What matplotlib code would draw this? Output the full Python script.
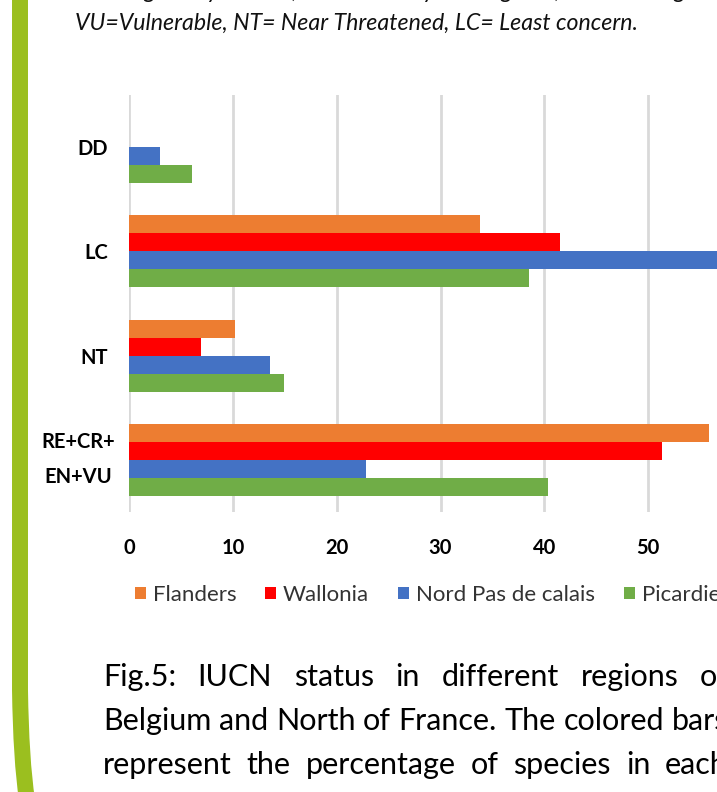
import numpy as np
import matplotlib
matplotlib.use("Agg")
import matplotlib.pyplot as plt
import matplotlib.transforms as mtransforms
from matplotlib.patches import Patch, PathPatch
from matplotlib.path import Path

plt.rcParams['font.family'] = ['Lato', 'DejaVu Sans']

# data (percentage of species)
categories = ["DD", "LC", "NT", "RE+CR+\nEN+VU"]
regions = ["Flanders", "Wallonia", "Nord Pas de calais", "Picardie"]
flanders = [0, 33.8, 10.2, 55.9]
wallonia = [0, 41.5, 6.9, 51.3]
nord_pdc = [3.0, 62.0, 13.6, 22.8]
picardie = [6.1, 38.5, 14.9, 40.4]
colors = ["#ed7d31", "#ff0000", "#4472c4", "#70ad47"]
xticks = [0, 10, 20, 30, 40, 50, 60]

W, H = 717, 792
fig = plt.figure(figsize=(W / 100, H / 100), dpi=100)

def fx(px):
    return px / W

def fy(py):
    return 1 - py / H

# green frame line on the left, bending at the bottom
verts = [(20, -5), (20, 690), (21, 760), (27, 800)]
codes = [Path.MOVETO, Path.LINETO, Path.CURVE3, Path.CURVE3]
frame = PathPatch(Path([(fx(x), fy(y)) for x, y in verts], codes),
                  transform=fig.transFigure, fill=False,
                  edgecolor="#9bbf1f", lw=11.5, capstyle="butt")
fig.add_artist(frame)

# header text (first line is cut by the screenshot)
fig.text(fx(75), fy(-2), "RE= Regionally Extinct, CR= Critically Endangered, EN= Endangered,",
         fontsize=16.7, style="italic", va="baseline", ha="left", color="#111111")
fig.text(fx(75), fy(30), "VU=Vulnerable, NT= Near Threatened, LC= Least concern.",
         fontsize=16.7, style="italic", va="baseline", ha="left", color="#111111")

# chart
ax = fig.add_axes([fx(129), fy(512), fx(752) - fx(129), fy(95) - fy(512)])
y = np.arange(len(categories))
h = 0.173
series = [flanders, wallonia, nord_pdc, picardie]
for i, vals in enumerate(series):
    ax.barh(y + (i - 1.5) * h, vals, height=h, color=colors[i],
            label=regions[i], zorder=3)

ax.set_xlim(0, 60)
ax.set_ylim(3.5, -0.5)
ax.set_xticks(xticks)
ax.set_yticks(y)
ax.set_yticklabels(categories, fontsize=14.5, fontweight="bold",
                   multialignment="center", linespacing=1.95)
ax.tick_params(axis="x", labelsize=14.5, length=0, pad=19)
ax.tick_params(axis="y", length=0, pad=15)
for lab in ax.get_xticklabels():
    lab.set_fontweight("bold")
# the wrapped label sits centred further left
wrapped = ax.get_yticklabels()[3]
wrapped.set_horizontalalignment("center")
wrapped.set_transform(wrapped.get_transform()
                      + mtransforms.ScaledTranslation(-0.295, 0.1, fig.dpi_scale_trans))
ax.xaxis.grid(True, color="#d9d9d9", lw=2, zorder=0)
ax.set_axisbelow(True)
for s in ax.spines.values():
    s.set_visible(False)

handles = [Patch(facecolor=c, edgecolor="none") for c in colors]
fig.legend(handles, regions, loc="center left",
           bbox_to_anchor=(fx(135), fy(595)), ncol=4, frameon=False,
           fontsize=16, handlelength=0.5, handleheight=0.5, borderpad=0,
           borderaxespad=0, handletextpad=0.3, columnspacing=1.3,
           labelcolor="#333333")

# caption, justified like in the poster
caption = [
    "Fig.5: IUCN status in different regions of",
    "Belgium and North of France. The colored bars",
    "represent the percentage of species in each",
]
cap_y = [686, 730, 774]
x_left, x_right = 103, 728
renderer = fig.canvas.get_renderer()
for line, yy in zip(caption, cap_y):
    words = line.split()
    texts = [fig.text(0, fy(yy), w, fontsize=22, va="baseline", ha="left",
                      color="#000000") for w in words]
    widths = [t.get_window_extent(renderer).width for t in texts]
    gap = max((x_right - x_left - sum(widths)) / (len(words) - 1), 5)
    x = x_left
    for t, wd in zip(texts, widths):
        t.set_x(fx(x))
        x += wd + gap

fig.savefig("out.png", dpi=100)
